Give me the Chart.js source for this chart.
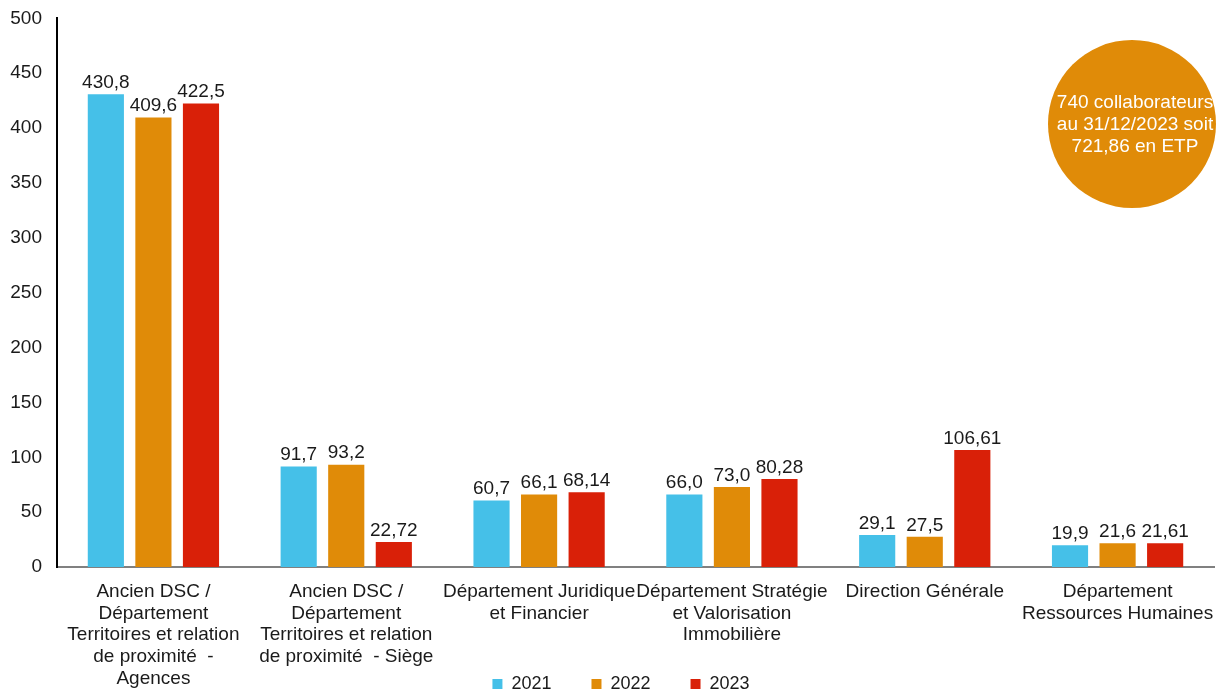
<!DOCTYPE html>
<html>
<head>
<meta charset="utf-8">
<script src="https://cdn.jsdelivr.net/npm/chart.js@4.4.1/dist/chart.umd.min.js"></script>
<style>
  html, body { margin: 0; padding: 0; background: #fff; }
  #wrap { width: 1223px; height: 694px; }
</style>
</head>
<body>
<div id="wrap"><canvas id="chart"></canvas></div>
<script>
// Effectifs par direction
const categories = [
    ['Ancien DSC /', 'Département', 'Territoires et relation', 'de proximité  -', 'Agences'],
    ['Ancien DSC /', 'Département', 'Territoires et relation', 'de proximité  - Siège'],
    ['Département Juridique', 'et Financier'],
    ['Département Stratégie', 'et Valorisation', 'Immobilière'],
    ['Direction Générale'],
    ['Département', 'Ressources Humaines']
];
const years = ['2021', '2022', '2023'];
const values2021 = [430.8, 91.7, 60.7, 66.0, 29.1, 19.9];
const values2022 = [409.6, 93.2, 66.1, 73.0, 27.5, 21.6];
const values2023 = [422.5, 22.72, 68.14, 80.28, 106.61, 21.61];
const decimals2021 = [1, 1, 1, 1, 1, 1];
const decimals2022 = [1, 1, 1, 1, 1, 1];
const decimals2023 = [1, 2, 2, 2, 2, 2];
const yTicks = [0, 50, 100, 150, 200, 250, 300, 350, 400, 450, 500];
const bubbleText = ['740 collaborateurs', 'au 31/12/2023 soit', '721,86 en ETP'];

const colors = ['#45c0e8', '#e08b08', '#d92008'];
const FONT = 'Liberation Sans, Arial, sans-serif';
const TXT = '#1a1a1a';

Chart.defaults.font.family = FONT;
Chart.defaults.font.size = 19;
Chart.defaults.color = TXT;

// Étiquettes de valeur au-dessus des barres
const valueLabels = {
    id: 'valueLabels',
    afterDatasetsDraw(chart) {
        const ctx = chart.ctx;
        ctx.save();
        ctx.font = '19px ' + FONT;
        ctx.fillStyle = TXT;
        ctx.textAlign = 'center';
        ctx.textBaseline = 'bottom';
        chart.data.datasets.forEach((ds, i) => {
            chart.getDatasetMeta(i).data.forEach((bar, j) => {
                const txt = ds.data[j].toFixed(ds.decimals[j]).replace('.', ',');
                ctx.fillText(txt, bar.x, bar.y - 2);
            });
        });
        ctx.restore();
    }
};

// Bulle orange en haut à droite
const bubble = {
    id: 'bubble',
    afterDraw(chart) {
        const ctx = chart.ctx;
        const cx = 1132, cy = 124, r = 84;
        ctx.save();
        ctx.beginPath();
        ctx.arc(cx, cy, r, 0, Math.PI * 2);
        ctx.fillStyle = '#e08b08';
        ctx.fill();
        ctx.font = '19px ' + FONT;
        ctx.fillStyle = '#ffffff';
        ctx.textAlign = 'center';
        ctx.textBaseline = 'middle';
        bubbleText.forEach((line, i) => {
            ctx.fillText(line, cx + 3, cy - 21 + i * 22);
        });
        ctx.restore();
    }
};

// Les libellés de l'axe x débordent sous la légende, et la légende est un peu plus bas / à droite
const layoutTweaks = {
    id: 'layoutTweaks',
    afterLayout(chart) {
        const lg = chart.legend;
        if (lg) {
            lg.top += 9;
            lg.bottom += 9;
            lg.left += 14;
            lg.right += 14;
        }
        chart.scales.x.bottom = chart.height;
    }
};

new Chart(document.getElementById('chart'), {
    type: 'bar',
    data: {
        labels: categories,
        datasets: [
            { label: years[0], data: values2021, decimals: decimals2021, backgroundColor: colors[0] },
            { label: years[1], data: values2022, decimals: decimals2022, backgroundColor: colors[1] },
            { label: years[2], data: values2023, decimals: decimals2023, backgroundColor: colors[2] }
        ]
    },
    options: {
        responsive: true,
        maintainAspectRatio: false,
        animation: false,
        categoryPercentage: 0.74,
        barPercentage: 0.76,
        layout: { padding: { top: 6, right: 9, left: 0, bottom: 0 } },
        scales: {
            x: {
                grid: { display: false },
                border: { color: '#808080', width: 2 },
                afterFit: scale => { scale.height = 59; },
                ticks: {
                    maxRotation: 0,
                    autoSkip: false,
                    padding: 6,
                    font: { size: 19, lineHeight: 1.14 },
                    color: TXT
                }
            },
            y: {
                min: 0,
                max: 500,
                afterBuildTicks: scale => { scale.ticks = yTicks.map(v => ({ value: v })); },
                afterFit: scale => { scale.width = 57; },
                grid: { display: false },
                border: { color: '#000000', width: 2 },
                ticks: { padding: 7, color: TXT, font: { size: 19 } }
            }
        },
        plugins: {
            legend: {
                position: 'bottom',
                labels: {
                    boxWidth: 10,
                    boxHeight: 10,
                    padding: 40,
                    font: { size: 18 },
                    color: TXT
                }
            },
            tooltip: { enabled: false }
        }
    },
    plugins: [valueLabels, bubble, layoutTweaks]
});
</script>
</body>
</html>
